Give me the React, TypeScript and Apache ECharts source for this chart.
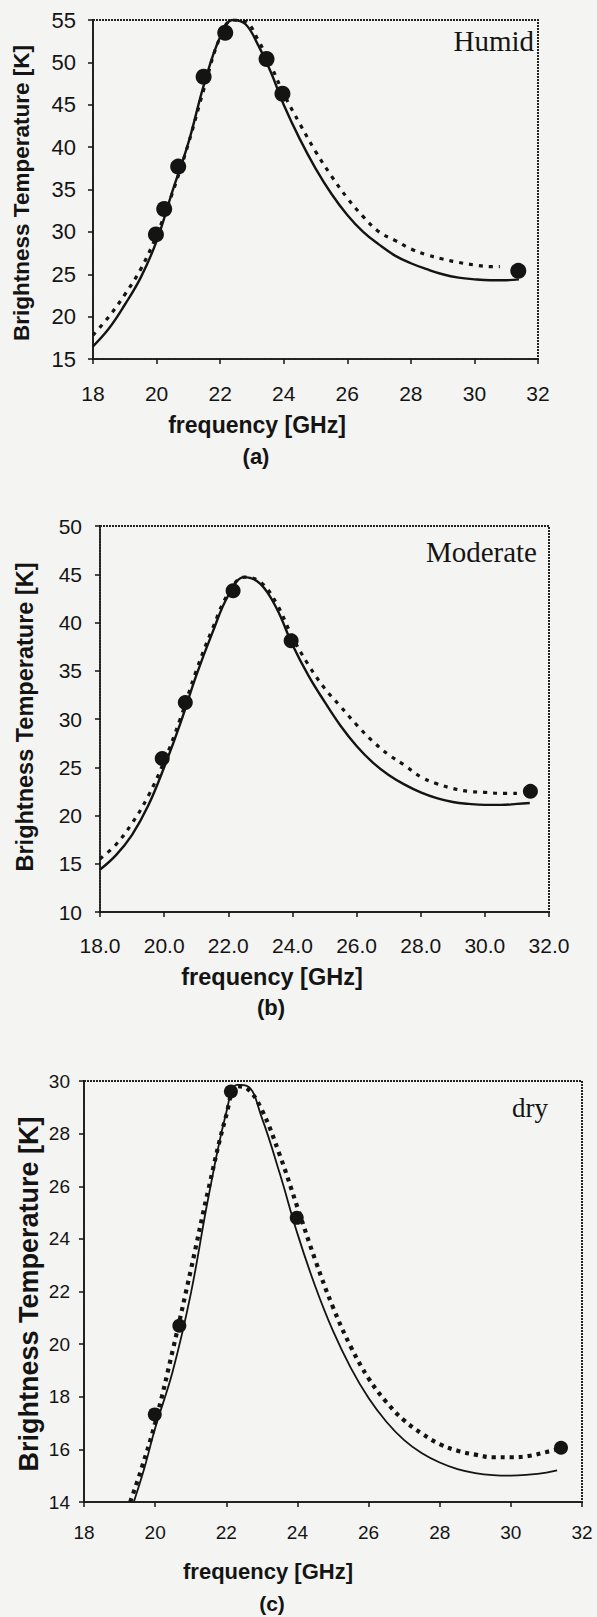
import React, { useEffect, useRef } from "react";
import * as echarts from "echarts";

// ---------- Data ----------
// (a) Humid
const humidSolidF = [18.0, 18.5, 19.0, 19.5, 20.0, 20.5, 21.0, 21.5, 22.0, 22.4, 22.8, 23.2, 23.6, 24.0, 24.5, 25.0, 25.5, 26.0, 26.5, 27.0, 27.5, 28.0, 28.5, 29.0, 29.5, 30.0, 30.5, 31.0, 31.4];
const humidSolidT = [16.5, 18.6, 21.4, 24.6, 28.9, 34.8, 40.5, 47.5, 53.0, 55.0, 54.5, 52.0, 48.8, 45.0, 41.0, 37.5, 34.5, 32.0, 30.0, 28.5, 27.2, 26.3, 25.6, 25.0, 24.6, 24.4, 24.3, 24.3, 24.4];
const humidDashF = [18.0, 18.5, 19.0, 19.5, 20.0, 20.5, 21.0, 21.5, 22.0, 22.4, 22.8, 23.2, 23.6, 24.0, 24.5, 25.0, 25.5, 26.0, 26.5, 27.0, 27.5, 28.0, 28.5, 29.0, 29.5, 30.0, 30.5, 30.8];
const humidDashT = [17.8, 20.0, 22.6, 25.6, 29.6, 34.6, 40.4, 47.0, 53.0, 55.0, 54.8, 52.6, 49.6, 46.3, 42.8, 39.5, 36.6, 34.0, 31.8, 30.0, 29.0, 28.0, 27.3, 26.8, 26.4, 26.1, 25.9, 25.9];
const humidMeasF = [19.98, 20.24, 20.68, 21.48, 22.16, 23.46, 23.96, 31.38];
const humidMeasT = [29.7, 32.7, 37.7, 48.3, 53.5, 50.4, 46.3, 25.4];

// (b) Moderate
const modSolidF = [18.0, 18.5, 19.0, 19.5, 20.0, 20.5, 21.0, 21.5, 22.0, 22.5, 23.0, 23.5, 24.0, 24.5, 25.0, 25.5, 26.0, 26.5, 27.0, 27.5, 28.0, 28.5, 29.0, 29.5, 30.0, 30.5, 31.0, 31.4];
const modSolidT = [14.4, 15.9, 18.0, 21.0, 25.0, 29.5, 34.5, 38.9, 42.8, 44.7, 44.0, 41.5, 37.7, 34.5, 31.8, 29.3, 27.2, 25.5, 24.2, 23.2, 22.4, 21.8, 21.4, 21.2, 21.1, 21.1, 21.2, 21.3];
const modDashF = [18.0, 18.5, 19.0, 19.5, 20.0, 20.5, 21.0, 21.5, 22.0, 22.5, 23.0, 23.5, 24.0, 24.5, 25.0, 25.5, 26.0, 26.5, 27.0, 27.5, 28.0, 28.5, 29.0, 29.5, 30.0, 30.5, 31.0];
const modDashT = [15.5, 17.0, 19.2, 22.0, 25.6, 30.0, 35.0, 39.3, 43.0, 44.7, 44.2, 42.0, 38.5, 35.6, 33.2, 31.3, 29.4, 27.7, 26.3, 25.2, 24.0, 23.3, 22.8, 22.5, 22.4, 22.3, 22.3];
const modMeasF = [19.94, 20.66, 22.15, 23.96, 31.42];
const modMeasT = [25.9, 31.7, 43.3, 38.1, 22.5];

// (c) dry
const drySolidF = [19.4, 19.7, 20.0, 20.5, 21.0, 21.5, 22.0, 22.3, 22.6, 23.0, 23.5, 24.0, 24.5, 25.0, 25.5, 26.0, 26.5, 27.0, 27.5, 28.0, 28.5, 29.0, 29.5, 30.0, 30.5, 31.0, 31.3];
const drySolidT = [14.0, 15.3, 16.8, 19.0, 21.9, 25.6, 28.8, 29.85, 29.8, 28.6, 26.5, 24.2, 22.2, 20.5, 19.1, 17.95, 17.05, 16.35, 15.85, 15.5, 15.25, 15.1, 15.02, 15.0, 15.04, 15.12, 15.2];
const dryDashF = [19.3, 19.6, 20.0, 20.5, 21.0, 21.5, 22.0, 22.3, 22.6, 23.0, 23.5, 24.0, 24.5, 25.0, 25.5, 26.0, 26.5, 27.0, 27.5, 28.0, 28.5, 29.0, 29.5, 30.0, 30.5, 31.0, 31.3];
const dryDashT = [14.0, 15.2, 17.0, 19.8, 22.8, 25.9, 28.7, 29.8, 29.7, 28.9, 27.2, 25.2, 23.2, 21.4, 19.9, 18.7, 17.8, 17.1, 16.6, 16.2, 15.95, 15.8, 15.7, 15.7, 15.75, 15.9, 16.0];
const dryMeasF = [19.99, 20.68, 22.13, 23.98, 31.41];
const dryMeasT = [17.33, 20.7, 29.6, 24.8, 16.06];

const panelLabels = ["Humid", "Moderate", "dry"];
const captions = ["(a)", "(b)", "(c)"];
const xTitle = "frequency [GHz]";
const yTitle = "Brightness Temperature [K]";

const zip = (xs: number[], ys: number[]) => xs.map((x, i) => [x, ys[i]]);

const INK = "#141414";
const SANS = "'Liberation Sans', Arial, sans-serif";
const SERIF = "'Liberation Serif', 'Times New Roman', serif";

export default function App() {
  const ref = useRef<HTMLDivElement>(null);
  useEffect(() => {
    if (!ref.current) return;
    const chart = echarts.init(ref.current, undefined, { renderer: "svg" });

    const grids = [
      { left: 93, top: 20, width: 445, height: 339 },
      { left: 100, top: 526, width: 449, height: 386 },
      { left: 84, top: 1081, width: 498, height: 421 },
    ];
    const yRanges = [
      { min: 15, max: 55, interval: 5 },
      { min: 10, max: 50, interval: 5 },
      { min: 14, max: 30, interval: 2 },
    ];
    const xLabelFont = [21, 21, 19];
    const yLabelFont = [22, 21, 19];
    const xMargins = [24, 23, 21];
    const yMargins = [17, 18, 14];

    const axisLine = { show: true, lineStyle: { color: "#222", width: 2, type: [2, 1] } };

    const xAxes = grids.map((_, i) => ({
      type: "value",
      gridIndex: i,
      min: 18,
      max: 32,
      interval: 2,
      axisLine,
      axisTick: { show: true, length: 5, lineStyle: { color: INK, width: 1.5 } },
      splitLine: { show: false },
      axisLabel: {
        color: INK,
        fontFamily: SANS,
        fontSize: xLabelFont[i],
        margin: xMargins[i],
        formatter: (v: number) => (i === 1 ? v.toFixed(1) : String(v)),
      },
    }));

    const yAxes = grids.map((_, i) => ({
      type: "value",
      gridIndex: i,
      ...yRanges[i],
      axisLine,
      axisTick: { show: true, length: 5, lineStyle: { color: INK, width: 1.5 } },
      splitLine: { show: false },
      axisLabel: {
        color: INK,
        fontFamily: SANS,
        fontSize: yLabelFont[i],
        margin: yMargins[i],
      },
    }));

    const solidWidth = [2.4, 2.4, 1.8];
    const dashStyles = [
      { color: INK, width: 3.2, type: [4, 6] },
      { color: INK, width: 3.2, type: [4, 6] },
      { color: INK, width: 4.2, type: [4, 5] },
    ];

    const curves = [
      [humidSolidF, humidSolidT, humidDashF, humidDashT, humidMeasF, humidMeasT],
      [modSolidF, modSolidT, modDashF, modDashT, modMeasF, modMeasT],
      [drySolidF, drySolidT, dryDashF, dryDashT, dryMeasF, dryMeasT],
    ];
    const markerSize = [16, 15, 14];

    const series: any[] = [];
    curves.forEach((c, i) => {
      series.push({
        type: "line",
        xAxisIndex: i,
        yAxisIndex: i,
        data: zip(c[0], c[1]),
        smooth: 0.4,
        showSymbol: false,
        lineStyle: { color: INK, width: solidWidth[i], type: "solid" },
        clip: true,
        z: 3,
      });
      series.push({
        type: "line",
        xAxisIndex: i,
        yAxisIndex: i,
        data: zip(c[2], c[3]),
        smooth: 0.4,
        showSymbol: false,
        lineStyle: dashStyles[i],
        clip: true,
        z: 2,
      });
      series.push({
        type: "scatter",
        xAxisIndex: i,
        yAxisIndex: i,
        data: zip(c[4], c[5]),
        symbol: "circle",
        symbolSize: markerSize[i],
        itemStyle: { color: INK, opacity: 1 },
        z: 4,
      });
    });

    const xTitlePos = [
      [257, 425],
      [272, 977],
      [268, 1571],
    ];
    const captionPos = [
      [256, 456],
      [271, 1007],
      [272, 1603],
    ];
    const yTitlePos = [
      [21, 193],
      [25, 717],
      [29, 1294],
    ];
    const yTitleFont = [22.5, 23.5, 27];
    const xTitleFont = [23, 23.5, 22];
    const captionFont = [22, 22, 21];
    const panelFont = [29, 29, 27];
    const panelPos = [
      [534, 41],
      [537, 552],
      [548, 1108],
    ];

    const graphic: any[] = [];
    for (let i = 0; i < 3; i++) {
      graphic.push({
        type: "text",
        x: xTitlePos[i][0],
        y: xTitlePos[i][1],
        style: {
          text: xTitle,
          fill: INK,
          font: `bold ${xTitleFont[i]}px ${SANS}`,
          textAlign: "center",
          textVerticalAlign: "middle",
        },
      });
      graphic.push({
        type: "text",
        x: captionPos[i][0],
        y: captionPos[i][1],
        style: {
          text: captions[i],
          fill: INK,
          font: `bold ${captionFont[i]}px ${SANS}`,
          textAlign: "center",
          textVerticalAlign: "middle",
        },
      });
      graphic.push({
        type: "text",
        x: yTitlePos[i][0],
        y: yTitlePos[i][1],
        rotation: Math.PI / 2,
        style: {
          text: yTitle,
          fill: INK,
          font: `bold ${yTitleFont[i]}px ${SANS}`,
          textAlign: "center",
          textVerticalAlign: "middle",
        },
      });
      graphic.push({
        type: "text",
        x: panelPos[i][0],
        y: panelPos[i][1],
        style: {
          text: panelLabels[i],
          fill: INK,
          font: `${panelFont[i]}px ${SERIF}`,
          textAlign: "right",
          textVerticalAlign: "middle",
        },
      });
    }

    chart.setOption({
      animation: false,
      backgroundColor: "#f4f4f2",
      grid: grids.map((g) => ({
        ...g,
        show: true,
        borderColor: "#222",
        borderWidth: 2,
        borderType: [2, 1],
        backgroundColor: "transparent",
      })),
      xAxis: xAxes,
      yAxis: yAxes,
      series,
      graphic,
    });

    return () => chart.dispose();
  }, []);

  return (
    <div
      ref={ref}
      style={{ position: "absolute", left: 0, top: 0, width: 597, height: 1617 }}
    />
  );
}
